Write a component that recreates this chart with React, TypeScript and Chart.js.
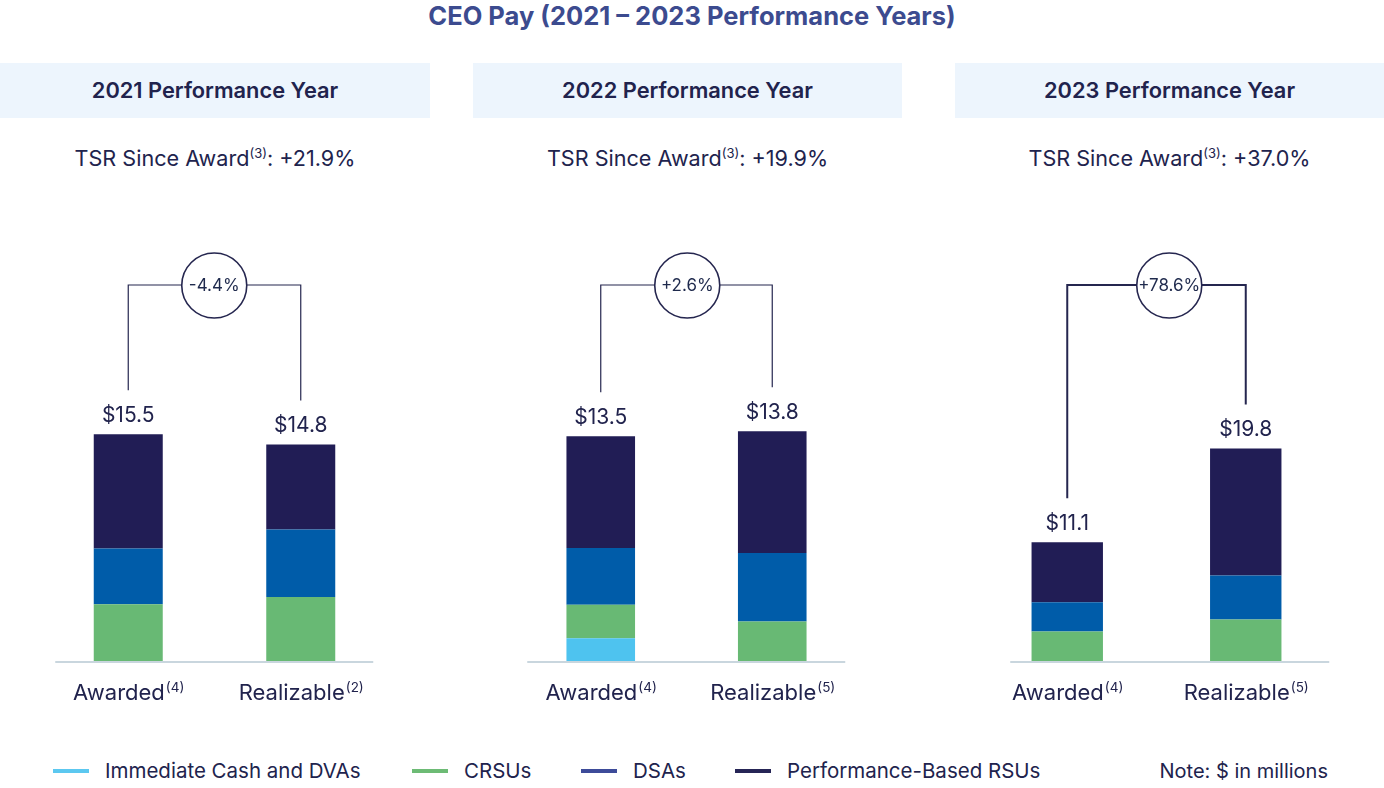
import React, { useEffect, useRef } from "react";
import { Chart, registerables } from "chart.js";

Chart.register(...registerables);

// ---------- data ----------
const chartTitle = "CEO Pay (2021 – 2023 Performance Years)";
const panelYears = ["2021", "2022", "2023"];
const tsrValues = ["+21.9%", "+19.9%", "+37.0%"];
const changeLabels = ["-4.4%", "+2.6%", "+78.6%"];
const barLabels = ["Awarded", "Realizable"];
const barFootnotes = [
  ["(4)", "(2)"],
  ["(4)", "(5)"],
  ["(4)", "(5)"],
];
const seriesNames = ["Immediate Cash and DVAs", "CRSUs", "DSAs", "Performance-Based RSUs"];
const cashValues = [
  [0, 0],
  [1.4, 0],
  [0, 0],
];
const crsuValues = [
  [3.9, 4.4],
  [2.0, 2.4],
  [2.8, 3.9],
];
const dsaValues = [
  [3.8, 4.6],
  [3.4, 4.1],
  [2.7, 4.1],
];
const pbrsuValues = [
  [7.8, 5.8],
  [6.7, 7.3],
  [5.6, 11.8],
];
const noteText = "Note: $ in millions";

// ---------- styles / layout ----------
const TEXT = "#21234D";
const FONT = "Inter, 'Noto Sans', sans-serif";
const barColors = ["#4EC3EF", "#68B974", "#005CA9", "#211D55"];
const legendColors = ["#5CC8F0", "#6DBB75", "#3D4B99", "#262556"];
const legendLeft = [53, 412, 581, 735];

const CANVAS_TOP = 180;
const CANVAS_H = 540;
const AREA_TOP = 200;
const BASE_Y = 661.5;
const SIDE_PAD = 20;
const BRACKET_Y = 285;

const PANEL_LAYOUT = [
  { boxLeft: 0, boxWidth: 430, areaLeft: 41.75, areaWidth: 345, yMax: 31.47, baseL: 55, baseR: 373, circleX: 214, lineW: 1.2 },
  { boxLeft: 473, boxWidth: 429, areaLeft: 514.75, areaWidth: 343, yMax: 27.66, baseL: 527, baseR: 845, circleX: 687, lineW: 1.2 },
  { boxLeft: 955, boxWidth: 429, areaLeft: 977.75, areaWidth: 357, yMax: 42.92, baseL: 1010, baseR: 1329, circleX: 1169, lineW: 2 },
];

const decorPlugin = {
  id: "panelDecor",
  afterDatasetsDraw(chart: any, _args: any, opts: any) {
    const { ctx } = chart;
    const xs = chart.scales.x;
    const ys = chart.scales.y;
    const offX = opts.canvasLeft;
    const offY = opts.canvasTop;
    ctx.save();
    // baseline
    const y0 = ys.getPixelForValue(0);
    ctx.strokeStyle = "#C9D6DE";
    ctx.lineWidth = 2;
    ctx.beginPath();
    ctx.moveTo(opts.baseL - offX, y0 + 0.5);
    ctx.lineTo(opts.baseR - offX, y0 + 0.5);
    ctx.stroke();

    const n = chart.data.labels.length;
    const px: number[] = [];
    const tops: number[] = [];
    const totals: number[] = [];
    for (let i = 0; i < n; i++) {
      let t = 0;
      chart.data.datasets.forEach((d: any) => (t += d.data[i]));
      totals.push(t);
      px.push(xs.getPixelForValue(i));
      tops.push(ys.getPixelForValue(t));
    }
    // value labels
    ctx.fillStyle = TEXT;
    ctx.textAlign = "center";
    ctx.textBaseline = "alphabetic";
    ctx.font = `400 21px ${FONT}`;
    for (let i = 0; i < n; i++) {
      ctx.fillText("$" + totals[i].toFixed(1), px[i], tops[i] - 12.5);
    }
    // bracket
    const by = BRACKET_Y - offY;
    ctx.strokeStyle = "#25264F";
    ctx.lineWidth = opts.lineW;
    ctx.beginPath();
    ctx.moveTo(px[0], tops[0] - 44);
    ctx.lineTo(px[0], by);
    ctx.lineTo(px[1], by);
    ctx.lineTo(px[1], tops[1] - 44);
    ctx.stroke();
    // circle
    const cx = opts.circleX - offX;
    ctx.beginPath();
    ctx.arc(cx, by + 0.5, 32.5, 0, Math.PI * 2);
    ctx.fillStyle = "#FFFFFF";
    ctx.fill();
    ctx.lineWidth = 1.6;
    ctx.strokeStyle = "#25264F";
    ctx.stroke();
    ctx.fillStyle = "#1F2A4D";
    ctx.font = `400 17px ${FONT}`;
    ctx.textAlign = "center";
    ctx.textBaseline = "middle";
    ctx.fillText(opts.change, cx, by + 1);
    // x labels with superscripts
    ctx.textAlign = "left";
    ctx.textBaseline = "alphabetic";
    ctx.fillStyle = TEXT;
    for (let i = 0; i < n; i++) {
      ctx.font = `400 22px ${FONT}`;
      const w1 = ctx.measureText(chart.data.labels[i]).width;
      ctx.font = `400 13.5px ${FONT}`;
      const w2 = ctx.measureText(opts.notes[i]).width;
      const sx = px[i] - (w1 + w2) / 2;
      ctx.font = `400 22px ${FONT}`;
      ctx.fillText(chart.data.labels[i], sx, y0 + 38);
      ctx.font = `400 13.5px ${FONT}`;
      ctx.fillText(opts.notes[i], sx + w1 + 1, y0 + 30);
    }
    ctx.restore();
  },
};

function ChartPanel({ index }: { index: number }) {
  const ref = useRef<HTMLCanvasElement | null>(null);
  const L = PANEL_LAYOUT[index];
  const canvasLeft = L.areaLeft - SIDE_PAD;
  const canvasWidth = L.areaWidth + 2 * SIDE_PAD;
  useEffect(() => {
    const series = [cashValues, crsuValues, dsaValues, pbrsuValues];
    const chart = new Chart(ref.current as HTMLCanvasElement, {
      type: "bar",
      data: {
        labels: barLabels,
        datasets: series.map((s, k) => ({
          label: seriesNames[k],
          data: s[index],
          backgroundColor: barColors[k],
          borderWidth: 0,
          barPercentage: 0.4,
          categoryPercentage: 1,
        })),
      },
      options: {
        responsive: false,
        animation: false,
        layout: {
          padding: {
            left: SIDE_PAD,
            right: SIDE_PAD,
            top: AREA_TOP - CANVAS_TOP,
            bottom: CANVAS_TOP + CANVAS_H - BASE_Y,
          },
        },
        scales: {
          x: { stacked: true, display: false, grid: { display: false } },
          y: { stacked: true, display: false, min: 0, max: L.yMax, grid: { display: false } },
        },
        plugins: {
          legend: { display: false },
          tooltip: { enabled: false },
          panelDecor: {
            canvasLeft,
            canvasTop: CANVAS_TOP,
            baseL: L.baseL,
            baseR: L.baseR,
            circleX: L.circleX,
            lineW: L.lineW,
            change: changeLabels[index],
            notes: barFootnotes[index],
          },
        } as any,
      },
      plugins: [decorPlugin],
    });
    return () => chart.destroy();
  }, [index]);
  return (
    <canvas
      ref={ref}
      width={canvasWidth}
      height={CANVAS_H}
      style={{ position: "absolute", left: canvasLeft, top: CANVAS_TOP, width: canvasWidth, height: CANVAS_H }}
    />
  );
}

export default function App() {
  return (
    <div
      style={{
        position: "absolute",
        left: 0,
        top: 0,
        width: 1384,
        height: 788,
        background: "#FFFFFF",
        fontFamily: FONT,
        color: TEXT,
        overflow: "hidden",
      }}
    >
      <div
        style={{
          position: "absolute",
          left: 0,
          top: 0,
          width: 1384,
          height: 32,
          lineHeight: "32px",
          textAlign: "center",
          fontSize: 25.5,
          fontWeight: 700,
          color: "#3C4B8F",
          whiteSpace: "nowrap",
        }}
      >
        {chartTitle}
      </div>
      {PANEL_LAYOUT.map((L, i) => (
        <React.Fragment key={i}>
          <div
            style={{
              position: "absolute",
              left: L.boxLeft,
              top: 63,
              width: L.boxWidth,
              height: 55,
              lineHeight: "55px",
              background: "#EDF5FD",
              textAlign: "center",
              fontSize: 21.8,
              fontWeight: 600,
              whiteSpace: "nowrap",
            }}
          >
            {panelYears[i]} Performance Year
          </div>
          <div
            style={{
              position: "absolute",
              left: L.boxLeft,
              top: 143,
              width: L.boxWidth,
              height: 30,
              lineHeight: "30px",
              textAlign: "center",
              fontSize: 21.6,
              fontWeight: 400,
              whiteSpace: "nowrap",
            }}
          >
            TSR Since Award
            <span style={{ fontSize: 13, position: "relative", top: -8 }}>(3)</span>: {tsrValues[i]}
          </div>
          <ChartPanel index={i} />
        </React.Fragment>
      ))}
      {seriesNames.map((name, k) => (
        <div
          key={name}
          style={{
            position: "absolute",
            left: legendLeft[k],
            top: 756,
            height: 30,
            display: "flex",
            alignItems: "center",
            whiteSpace: "nowrap",
          }}
        >
          <span style={{ display: "inline-block", width: 36, height: 4, background: legendColors[k], marginRight: 16 }} />
          <span style={{ fontSize: 20.5, lineHeight: "30px" }}>{name}</span>
        </div>
      ))}
      <div
        style={{
          position: "absolute",
          right: 1384 - 1328,
          top: 756,
          height: 30,
          lineHeight: "30px",
          fontSize: 20,
          whiteSpace: "nowrap",
        }}
      >
        {noteText}
      </div>
    </div>
  );
}
